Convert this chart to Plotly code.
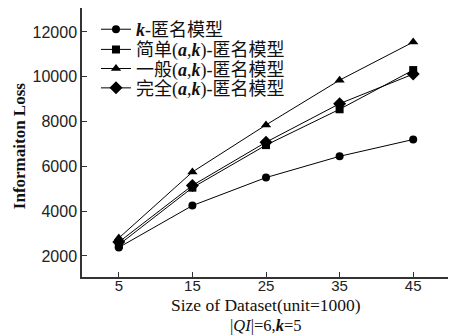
import plotly.graph_objects as go

sizes = [5, 15, 25, 35, 45]
k_anon = [2380, 4250, 5500, 6450, 7200]
simple_ak = [2500, 5050, 6950, 8550, 10300]
general_ak = [2800, 5750, 7850, 9850, 11550]
complete_ak = [2620, 5150, 7080, 8800, 10120]

series_names = ["<b><i>k</i></b>-匿名模型",
                "简单(<b><i>a</i></b>,<b><i>k</i></b>)-匿名模型",
                "一般(<b><i>a</i></b>,<b><i>k</i></b>)-匿名模型",
                "完全(<b><i>a</i></b>,<b><i>k</i></b>)-匿名模型"]
series_vals = [k_anon, simple_ak, general_ak, complete_ak]
symbols = ["circle", "square", "triangle-up", "diamond"]
msizes = [8, 8, 9, 10]

y_ticks = [2000, 4000, 6000, 8000, 10000, 12000]
y_labels = ["2000", "4000", "6000", "8000", "10000", "12000"]
x_labels = ["5", "15", "25", "35", "45"]

legend_ids = ["legend", "legend2", "legend3", "legend4"]
legend_y = [0.920, 0.845, 0.774, 0.702]

fig = go.Figure()
for name, vals, sym, ms, lid in zip(series_names, series_vals, symbols, msizes, legend_ids):
    fig.add_trace(go.Scatter(
        x=sizes, y=vals, name=name, mode="lines+markers",
        line=dict(color="black", width=1),
        marker=dict(symbol=sym, size=ms, color="black"),
        legend=lid,
    ))

axis_common = dict(
    showline=True, linecolor="#333", linewidth=1.5, mirror=True,
    ticks="inside", ticklen=5, tickcolor="#333", showgrid=False, zeroline=False,
    automargin=False,
)

legend_font = dict(family="Liberation Serif, Noto Sans CJK SC", size=18, color="#111")
legend_layout = {}
for lid, ly in zip(legend_ids, legend_y):
    legend_layout[lid] = dict(x=0.038, y=ly, xanchor="left", yanchor="middle",
                              bgcolor="rgba(0,0,0,0)", borderwidth=0, itemwidth=30,
                              font=legend_font)

fig.update_layout(
    width=448, height=327,
    margin=dict(l=74, r=6, t=0, b=58, autoexpand=False),
    paper_bgcolor="white", plot_bgcolor="white",
    showlegend=True,
    xaxis=dict(range=[0, 50], tickvals=sizes, ticktext=x_labels, ticklabelstandoff=-6,
               tickfont=dict(family="Liberation Sans, Arial", size=15, color="#222"),
               **axis_common),
    yaxis=dict(range=[1062, 13071], tickvals=y_ticks, ticktext=y_labels,
               tickfont=dict(family="Liberation Sans, Arial", size=16, color="#222"),
               **axis_common),
    annotations=[
        dict(text="Size of Dataset(unit=1000)", x=0.5, xref="paper", y=-0.104, yref="paper",
             yanchor="middle", showarrow=False,
             font=dict(family="Liberation Serif", size=17.5, color="#111")),
        dict(text="|<i>QI</i>|=6,<b><i>k</i></b>=5", x=0.5, xref="paper", y=-0.18, yref="paper",
             yanchor="middle", showarrow=False,
             font=dict(family="Liberation Serif", size=16.5, color="#111")),
        dict(text="<b>Informaiton Loss</b>", x=-0.168, xref="paper", y=0.487, yref="paper",
             xanchor="center", yanchor="middle",
             textangle=-90, showarrow=False,
             font=dict(family="Liberation Serif", size=17, color="#111")),
    ],
    **legend_layout,
)

fig.write_html("out.html")
